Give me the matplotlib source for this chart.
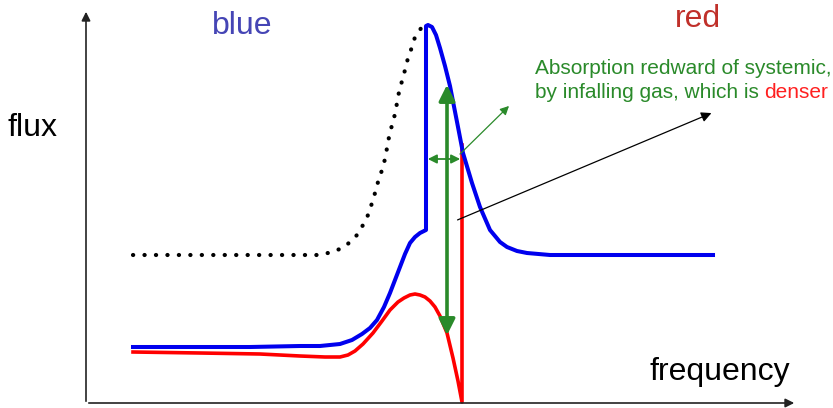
import matplotlib
matplotlib.use('Agg')
import matplotlib.pyplot as plt

plt.rcParams['font.family'] = ['Liberation Sans', 'DejaVu Sans']

# curves (frequency, flux) in picture units
cont_x = [133, 250, 306, 317, 328, 340, 349, 357, 363, 368, 372, 375, 378, 382, 385,
          387, 389, 392, 395, 397, 399, 402, 405, 408, 412, 415, 419, 422, 427]
cont_y = [153, 153, 153, 153, 155, 159, 165, 173, 183, 193, 205, 215, 226, 238, 249,
          260, 271, 283, 294, 305, 316, 327, 338, 350, 361, 371, 377, 381, 383]

blue_x = [133, 250, 300, 320, 340, 352, 362, 370, 377, 384, 390, 395, 400, 405, 410,
          415, 420, 424, 426, 426, 428, 432, 436, 440, 445, 450, 458, 463, 472, 480,
          490, 500, 507, 517, 527, 550, 713]
blue_y = [61, 61, 62, 62, 64, 68, 74, 80, 88, 101, 115, 128, 141, 154, 165,
          171, 175, 177, 178, 382, 383, 381, 373, 360, 342, 322, 281, 255, 225, 201,
          178, 166, 161, 157, 155, 153, 153]

red_x = [133, 200, 260, 300, 325, 340, 348, 355, 363, 373, 382, 390, 398, 404, 410,
         415, 420, 425, 430, 435, 440, 447, 453, 458, 462, 462]
red_y = [56, 55, 54, 52, 51, 51, 53, 57, 64, 75, 87, 98, 106, 110, 113,
         114, 113, 111, 107, 101, 92, 75, 50, 27, 6, 263]

fig = plt.figure(figsize=(8.33, 4.08), dpi=100)
ax = fig.add_axes([0, 0, 1, 1])
ax.set_xlim(0, 833)
ax.set_ylim(0, 408)
ax.axis('off')

# axes arrows
ax.annotate('', xy=(86, 399), xytext=(86, 4),
            arrowprops=dict(arrowstyle='-|>', color='#222222', lw=1.2, mutation_scale=13))
ax.annotate('', xy=(797, 5), xytext=(86, 5),
            arrowprops=dict(arrowstyle='-|>', color='#222222', lw=1.2, mutation_scale=13))

ax.plot(cont_x, cont_y, color='black', lw=3.0, ls=(0, (0.05, 2.7)),
        dash_capstyle='round')
ax.plot(red_x, red_y, color='#ff0000', lw=2.6, solid_joinstyle='round')
ax.plot(blue_x, blue_y, color='#0000ee', lw=2.9, solid_joinstyle='round')

green = '#2a8a2a'
# big vertical double arrow
ax.annotate('', xy=(447, 326), xytext=(447, 70),
            arrowprops=dict(arrowstyle='<|-|>', color=green, lw=2.6, mutation_scale=24))
# horizontal double arrow
ax.annotate('', xy=(425, 249), xytext=(463, 249),
            arrowprops=dict(arrowstyle='<|-|>', color=green, lw=1.3, mutation_scale=13))
# thin pointer
ax.annotate('', xy=(511, 304), xytext=(458, 252),
            arrowprops=dict(arrowstyle='-|>', color=green, lw=0.9, mutation_scale=13))
# black pointer
ax.annotate('', xy=(714, 296), xytext=(455, 187),
            arrowprops=dict(arrowstyle='-|>', color='black', lw=0.9, mutation_scale=15))

ax.text(242, 382, 'blue', color='#4545b5', fontsize=23, ha='center', va='center')
ax.text(698, 389, 'red', color='#c0302a', fontsize=23, ha='center', va='center')
ax.text(33, 280, 'flux', color='black', fontsize=23, ha='center', va='center')
ax.text(720, 36, 'frequency', color='black', fontsize=23, ha='center', va='center')

ax.text(535, 340, 'Absorption redward of systemic,', color=green, fontsize=15,
        ha='left', va='center')
t = ax.text(535, 316, 'by infalling gas, which is ', color=green, fontsize=15,
            ha='left', va='center')
ax.annotate('denser', xy=(1, 0), xycoords=t, color='#ff2020', fontsize=15,
            ha='left', va='bottom')

fig.savefig('out.png', dpi=100)
